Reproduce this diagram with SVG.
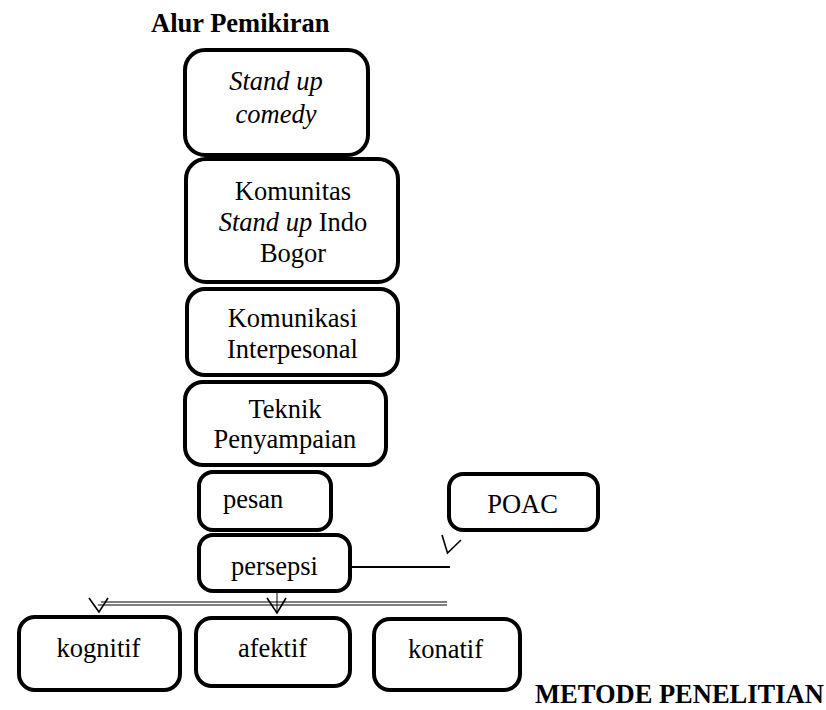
<svg xmlns="http://www.w3.org/2000/svg" width="826" height="710" viewBox="0 0 826 710">
<style>
.box{fill:#fff;stroke:#000;stroke-width:4}
text{font-family:"Liberation Serif","Times New Roman",serif;font-size:26.5px;fill:#000}
.c{text-anchor:middle}
.b{font-weight:bold}
.i{font-style:italic}
.ln{fill:none;stroke:#000;stroke-width:2}
.thin{fill:none;stroke:#000;stroke-width:1}
.ah{fill:none;stroke:#000;stroke-width:1.6}
</style>
<rect width="826" height="710" fill="#fff"/>
<text class="b" x="151" y="32">Alur Pemikiran</text>
<g id="connectors">
<line class="ln" x1="350" y1="567" x2="450" y2="567"/>
<polyline class="ah" points="442,535 447.5,553 461,540"/>
<line class="thin" x1="101" y1="602" x2="447" y2="602"/>
<line class="thin" x1="98" y1="605" x2="447" y2="605"/>
<polyline class="ah" points="89,598 99,612 108,598"/>
<line class="thin" x1="277" y1="593" x2="277" y2="613"/>
<polyline class="ah" points="267,598 277,613 286,598"/>
</g>
<g id="n1"><rect class="box" x="185" y="50" width="183" height="105" rx="20"/>
<text class="c i" x="276" y="90">Stand up</text><text class="c i" x="276" y="123">comedy</text></g>
<g id="n2"><rect class="box" x="186" y="159" width="212" height="123" rx="20"/>
<text class="c" x="293" y="200">Komunitas</text><text class="c" x="293" y="231"><tspan class="i">Stand up</tspan> Indo</text><text class="c" x="293" y="262">Bogor</text></g>
<g id="n3"><rect class="box" x="187" y="289" width="211" height="86" rx="18"/>
<text class="c" x="292.5" y="327">Komunikasi</text><text class="c" x="292.5" y="358">Interpesonal</text></g>
<g id="n4"><rect class="box" x="185" y="382" width="201" height="83" rx="18"/>
<text class="c" x="285" y="418">Teknik</text><text class="c" x="285" y="448">Penyampaian</text></g>
<g id="n5"><rect class="box" x="199" y="472" width="132" height="58" rx="14"/>
<text x="223" y="508">pesan</text></g>
<g id="n6"><rect class="box" x="199" y="535" width="151" height="56" rx="14"/>
<text class="c" x="274.5" y="575">persepsi</text></g>
<g id="n7"><rect class="box" x="449" y="474" width="149" height="56" rx="14"/>
<text class="c" x="522.5" y="513">POAC</text></g>
<g id="n8"><rect class="box" x="19" y="617" width="161" height="73" rx="16"/>
<text class="c" x="98.5" y="657">kognitif</text></g>
<g id="n9"><rect class="box" x="196" y="618" width="154" height="68" rx="16"/>
<text class="c" x="272.5" y="657">afektif</text></g>
<g id="n10"><rect class="box" x="374" y="619" width="146" height="71" rx="16"/>
<text class="c" x="445.5" y="658">konatif</text></g>
<text class="b" x="535" y="703">METODE PENELITIAN</text>
</svg>
